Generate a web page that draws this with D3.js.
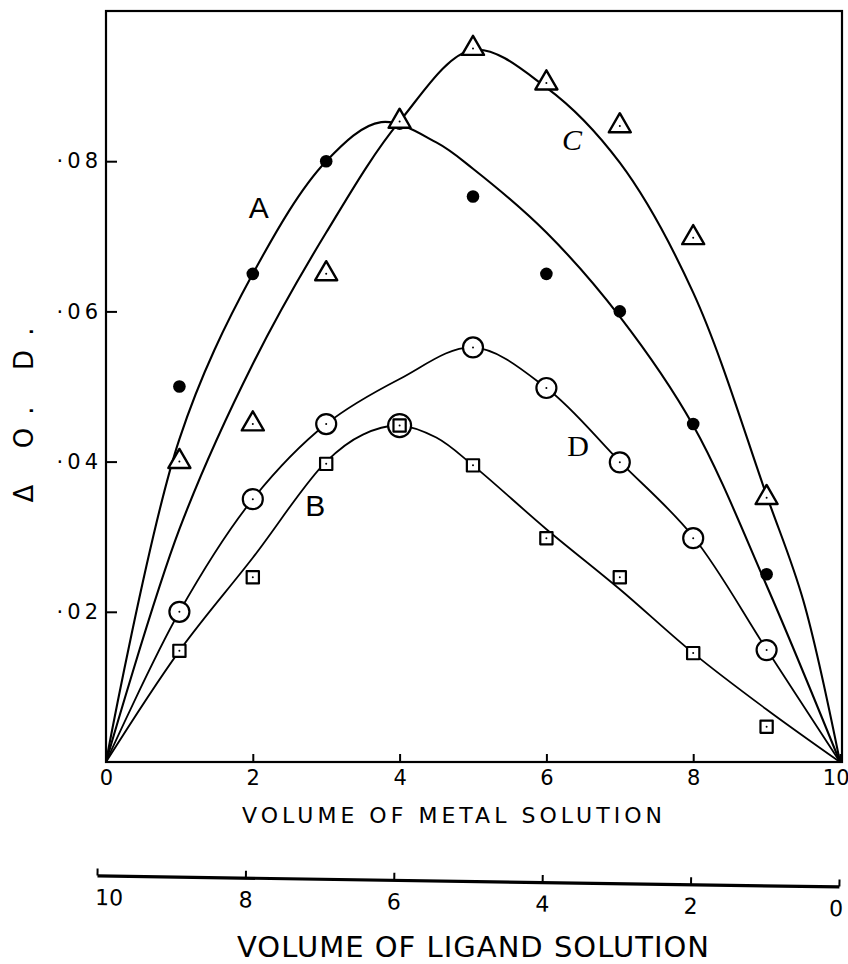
<!DOCTYPE html>
<html>
<head>
<meta charset="utf-8">
<script src="https://cdn.jsdelivr.net/npm/d3@7"></script>
<style>
  body { margin: 0; background: #fff; }
  svg { display: block; }
</style>
</head>
<body>
<svg id="chart" width="848" height="964"></svg>
<script>
// measured points (volume of metal solution, ΔO.D.)
const metalVolume = [1, 2, 3, 4, 5, 6, 7, 8, 9];
const odA = [0.050, 0.065, 0.080, 0.085, 0.0753, 0.065, 0.060, 0.045, 0.025];
const odB = [0.0148, 0.0246, 0.0397, 0.0448, 0.0395, 0.0298, 0.0246, 0.0145, 0.0047];
const odC = [0.040, 0.045, 0.065, 0.0853, 0.095, 0.0904, 0.0847, 0.0698, 0.0352];
const odD = [0.020, 0.035, 0.045, 0.0448, 0.0552, 0.0498, 0.0399, 0.0298, 0.0149];

// hand drawn curves
const fitAx = [0, 1, 2, 3, 3.75, 4.5, 5, 6, 7, 8, 9, 10];
const fitAy = [0, 0.043, 0.065, 0.080, 0.0852, 0.0825, 0.079, 0.0705, 0.0593, 0.0448, 0.0235, 0];
const fitBx = [0, 1, 2, 3, 3.5, 4, 4.5, 5, 6, 7, 8, 9, 10];
const fitBy = [0, 0.0148, 0.0272, 0.040, 0.0436, 0.0448, 0.0432, 0.0395, 0.031, 0.023, 0.0145, 0.007, 0];
const fitCx = [0, 1, 2, 3, 4, 5, 6, 7, 8, 9, 9.5, 10];
const fitCy = [0, 0.031, 0.053, 0.0705, 0.0853, 0.0948, 0.0898, 0.0798, 0.0625, 0.0355, 0.0215, 0];
const fitDx = [0, 1, 2, 3, 4, 5, 6, 7, 8, 9, 10];
const fitDy = [0, 0.020, 0.035, 0.045, 0.051, 0.0552, 0.0498, 0.040, 0.030, 0.015, 0];

const metalTicks = [0, 2, 4, 6, 8, 10];
const ligandTicks = [10, 8, 6, 4, 2, 0];
const odTicks = [0.02, 0.04, 0.06, 0.08];

// curve letters: name, x, y (data units)
const curveNames = ['A', 'B', 'C', 'D'];
const nameX = [2.08, 2.85, 6.35, 6.43];
const nameY = [0.0738, 0.0342, 0.0829, 0.0422];

const hand = 'DejaVu Sans, sans-serif';
const svg = d3.select('#chart');

const x = d3.scaleLinear([0, 10], [106, 840]);
const y = d3.scaleLinear([0, 0.1], [762, 11]);
const xLigand = d3.scaleLinear([10, 0], [97, 839]);

// frame
svg.append('rect')
  .attr('x', x(0))
  .attr('y', y(0.1))
  .attr('width', x(10) + 2 - x(0))
  .attr('height', y(0) - y(0.1))
  .attr('fill', 'none')
  .attr('stroke', '#000')
  .attr('stroke-width', 2.2);

// metal axis
svg.append('g')
  .attr('transform', `translate(0,${y(0)})`)
  .call(d3.axisBottom(x).tickValues(metalTicks).tickSize(-8).tickPadding(8).tickFormat(d3.format('d')))
  .call(g => g.select('.domain').remove())
  .call(g => g.selectAll('.tick line').attr('stroke-width', 2))
  .call(g => g.selectAll('.tick:last-of-type text').attr('text-anchor', 'end').attr('dx', 9))
  .attr('font-family', hand)
  .attr('font-size', 21);

// ΔO.D. axis
svg.append('g')
  .attr('transform', `translate(${x(0)},0)`)
  .call(d3.axisLeft(y).tickValues(odTicks).tickSize(-11).tickPadding(4)
    .tickFormat(d => '·' + String(Math.round(d * 100)).padStart(2, '0')))
  .call(g => g.select('.domain').remove())
  .call(g => g.selectAll('.tick line').attr('stroke-width', 2))
  .call(g => g.selectAll('.tick text').attr('letter-spacing', 4))
  .attr('font-family', hand)
  .attr('font-size', 21);

// ligand axis (drawn slightly askew, as in the original)
svg.append('g')
  .attr('transform', 'translate(0,874) rotate(0.85)')
  .call(d3.axisBottom(xLigand).tickValues(ligandTicks).tickSize(-7).tickSizeOuter(0).tickPadding(14).tickFormat(d3.format('d')))
  .call(g => g.select('.domain').attr('stroke-width', 3.2))
  .call(g => g.selectAll('.tick line').attr('stroke-width', 2))
  .call(g => g.selectAll('.tick:first-of-type text').attr('text-anchor', 'start').attr('dx', -2))
  .call(g => g.selectAll('.tick:last-of-type text').attr('text-anchor', 'end').attr('dx', 4))
  .attr('font-family', hand)
  .attr('font-size', 22);

// axis titles
svg.append('text')
  .attr('x', 452).attr('y', 823)
  .attr('text-anchor', 'middle')
  .attr('font-family', hand).attr('font-size', 22)
  .attr('textLength', 420).attr('lengthAdjust', 'spacing')
  .text('VOLUME OF METAL SOLUTION');

svg.append('text')
  .attr('x', 473).attr('y', 957)
  .attr('text-anchor', 'middle')
  .attr('font-family', hand).attr('font-size', 29)
  .attr('textLength', 472).attr('lengthAdjust', 'spacing')
  .text('VOLUME OF LIGAND SOLUTION');

svg.append('text')
  .attr('transform', 'translate(33,415) rotate(-90)')
  .attr('text-anchor', 'middle')
  .attr('font-family', hand).attr('font-size', 26)
  .attr('textLength', 175).attr('lengthAdjust', 'spacing')
  .text('Δ O. D.');

// curves
const line = d3.line()
  .curve(d3.curveCatmullRom.alpha(0.5))
  .x(d => x(d[0]))
  .y(d => y(d[1]));

const fits = [
  { xs: fitAx, ys: fitAy, w: 2.1 },
  { xs: fitBx, ys: fitBy, w: 1.8 },
  { xs: fitCx, ys: fitCy, w: 2.1 },
  { xs: fitDx, ys: fitDy, w: 1.8 }
];
const curveGroup = svg.append('g').attr('fill', 'none').attr('stroke', '#000');
fits.forEach(f => {
  curveGroup.append('path')
    .attr('d', line(f.xs.map((v, i) => [v, f.ys[i]])))
    .attr('stroke-width', f.w);
});

// markers
const pts = ys => metalVolume.map((v, i) => [v, ys[i]]);
const markerGroup = svg.append('g');

function centreDot(sel) {
  sel.append('circle').attr('r', 1).attr('fill', '#000');
}

// A: filled dots
markerGroup.append('g').selectAll('circle')
  .data(pts(odA))
  .join('circle')
    .attr('cx', d => x(d[0]))
    .attr('cy', d => y(d[1]))
    .attr('r', 6.3)
    .attr('fill', '#000');

// C: triangles
const tri = markerGroup.append('g').selectAll('g')
  .data(pts(odC))
  .join('g')
    .attr('transform', d => `translate(${x(d[0])},${y(d[1])})`);
tri.append('path')
  .attr('d', d3.symbol(d3.symbolTriangle, 210))
  .attr('fill', '#fff')
  .attr('stroke', '#000')
  .attr('stroke-width', 2.4)
  .attr('stroke-linejoin', 'round');
tri.call(centreDot);

// D: open circles
const circ = markerGroup.append('g').selectAll('g')
  .data(pts(odD))
  .join('g')
    .attr('transform', d => `translate(${x(d[0])},${y(d[1])})`);
circ.append('circle')
  .attr('r', (d, i) => i === 3 ? 11.5 : 10)
  .attr('fill', '#fff')
  .attr('stroke', '#000')
  .attr('stroke-width', 2.2);
circ.call(centreDot);

// B: squares
const sq = markerGroup.append('g').selectAll('g')
  .data(pts(odB))
  .join('g')
    .attr('transform', d => `translate(${x(d[0])},${y(d[1])})`);
sq.append('path')
  .attr('d', d3.symbol(d3.symbolSquare, 150))
  .attr('fill', '#fff')
  .attr('stroke', '#000')
  .attr('stroke-width', 2.2)
  .attr('stroke-linejoin', 'round');
sq.call(centreDot);

// curve letters
svg.append('g').selectAll('text')
  .data(curveNames)
  .join('text')
    .attr('x', (d, i) => x(nameX[i]))
    .attr('y', (d, i) => y(nameY[i]))
    .attr('text-anchor', 'middle')
    .attr('dominant-baseline', 'central')
    .attr('font-family', d => (d === 'C' || d === 'D') ? 'Liberation Serif, serif' : 'Liberation Sans, sans-serif')
    .attr('font-style', d => d === 'C' ? 'italic' : 'normal')
    .attr('font-size', 30)
    .text(d => d);
</script>
</body>
</html>
